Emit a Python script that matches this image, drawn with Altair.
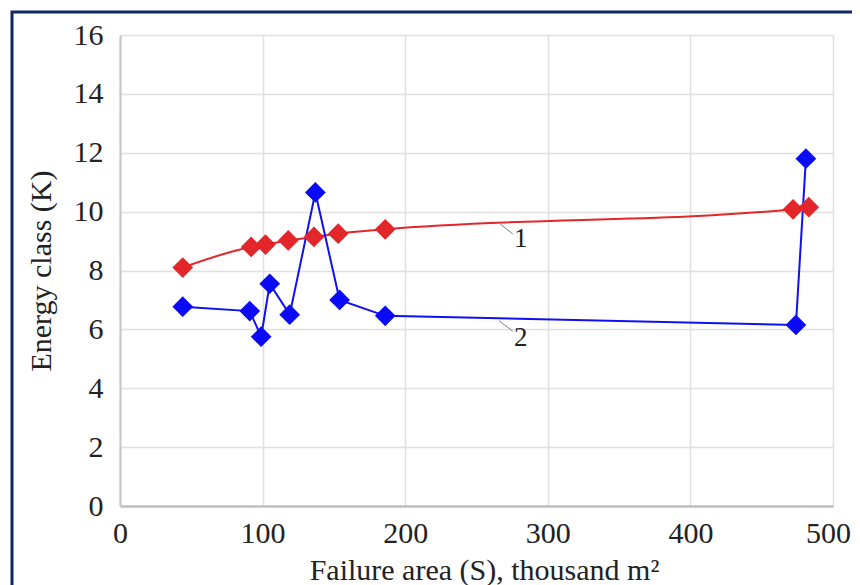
import altair as alt
import pandas as pd

# Curve 1 (red) and curve 2 (blue)
red_x = [44, 92, 102, 118, 136, 153, 186, 472, 483]
red_y = [8.1, 8.8, 8.88, 9.02, 9.14, 9.25, 9.4, 10.08, 10.15]
blue_x = [44, 91, 99, 105, 119, 137, 154, 186, 474, 481]
blue_y = [6.77, 6.62, 5.75, 7.55, 6.5, 10.65, 7.0, 6.46, 6.15, 11.8]

label_text = ["1", "2"]
label_x = [281, 281]
label_y = [9.07, 5.71]
leader_x = [265.6, 265.6]
leader_x2 = [275.4, 275.4]
leader_y = [9.62, 6.3]
leader_y2 = [9.24, 5.94]

x_ticks = [0, 100, 200, 300, 400, 500]
y_ticks = [0, 2, 4, 6, 8, 10, 12, 14, 16]

FONT = "Liberation Serif"

red = pd.DataFrame({"x": red_x, "y": red_y, "i": range(len(red_x))})
blue = pd.DataFrame({"x": blue_x, "y": blue_y, "i": range(len(blue_x))})
labels = pd.DataFrame({"t": label_text, "x": label_x, "y": label_y})
leaders = pd.DataFrame({"x": leader_x, "x2": leader_x2, "y": leader_y, "y2": leader_y2})

xs = alt.Scale(domain=[0, 500], nice=False, zero=False)
ys = alt.Scale(domain=[0, 16], nice=False)

xax = alt.Axis(values=x_ticks, title="Failure area (S), thousand m²", grid=True,
               ticks=False, labelPadding=12, titlePadding=7, domainColor="#c0c0c0",
               domainWidth=2.5, labelFlush=False, titleX=364,
               labelOffset={"condition": {"test": "datum.value >= 500", "value": -5}, "value": 0})
yax = alt.Axis(values=y_ticks, title="Energy class (K)", grid=True, ticks=False,
               labelPadding=17, titlePadding=17, domainColor="#c8c8c8", domainWidth=2,
               labelFlush=False)

frame = alt.Chart(pd.DataFrame({"a": [0]})).mark_rect(
    fill=None, stroke="#10296b", strokeWidth=3
).encode(x=alt.value(-108), x2=alt.value(900), y=alt.value(-23), y2=alt.value(700))

red_line = alt.Chart(red).mark_line(color="#e3262a", strokeWidth=2, interpolate="monotone").encode(
    x=alt.X("x:Q", scale=xs, axis=xax),
    y=alt.Y("y:Q", scale=ys, axis=yax),
    order="i:Q",
)
red_pts = alt.Chart(red).mark_point(shape="diamond", filled=True, size=430, color="#e3262a", opacity=1).encode(
    x=alt.X("x:Q", scale=xs), y=alt.Y("y:Q", scale=ys)
)
blue_line = alt.Chart(blue).mark_line(color="#1010f0", strokeWidth=2).encode(
    x=alt.X("x:Q", scale=xs), y=alt.Y("y:Q", scale=ys), order="i:Q"
)
blue_pts = alt.Chart(blue).mark_point(shape="diamond", filled=True, size=430, color="#0a0af5", opacity=1).encode(
    x=alt.X("x:Q", scale=xs), y=alt.Y("y:Q", scale=ys)
)
lead = alt.Chart(leaders).mark_rule(color="#808080", strokeWidth=1).encode(
    x=alt.X("x:Q", scale=xs), x2="x2:Q", y=alt.Y("y:Q", scale=ys), y2="y2:Q"
)
txt = alt.Chart(labels).mark_text(font=FONT, fontSize=27, color="#222222", align="center", baseline="middle").encode(
    x=alt.X("x:Q", scale=xs), y=alt.Y("y:Q", scale=ys), text="t:N"
)

chart = alt.layer(frame, red_line, blue_line, lead, txt, red_pts, blue_pts).properties(
    width=713, height=471,
    autosize=alt.AutoSizeParams(type="none"),
    padding={"left": 112, "top": 27, "right": 19, "bottom": 79},
).configure_view(stroke=None).configure_axis(
    labelFont=FONT, titleFont=FONT, labelFontSize=30, titleFontSize=30,
    labelColor="#222222", titleColor="#222222", titleFontWeight="normal",
    gridColor="#e0e0e0", gridWidth=1.5,
)

chart.save("out.html", embed_options={"renderer": "svg", "actions": False})
